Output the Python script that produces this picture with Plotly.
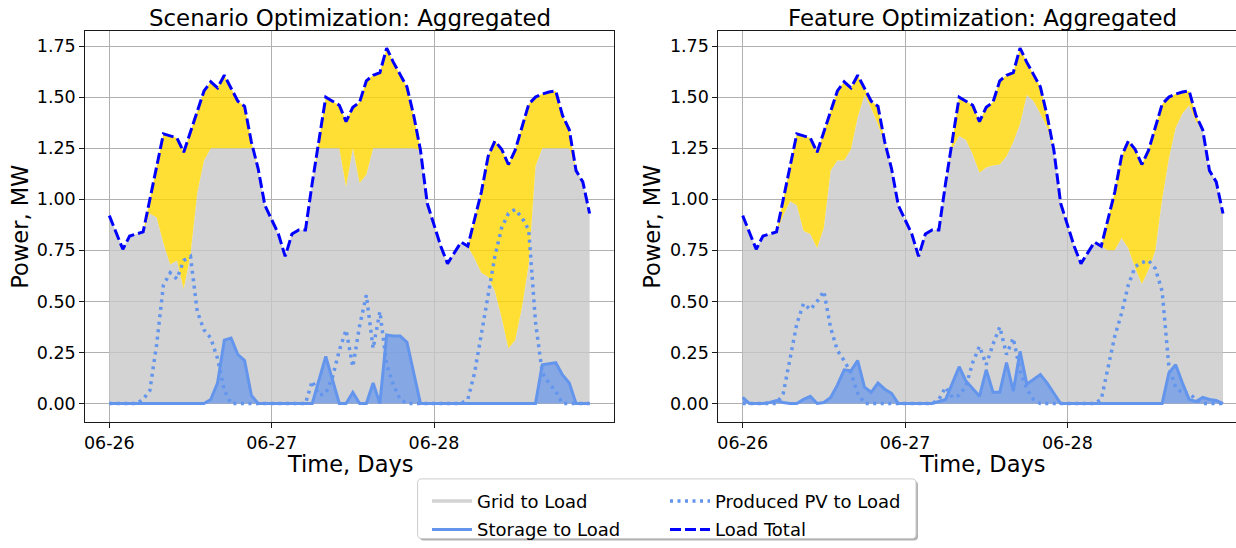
import pandas as pd
import plotly.graph_objects as go

W, H = 1236, 548
FONT = "DejaVu Sans"

start = pd.Timestamp("2023-06-26 00:00")
times = pd.date_range(start, periods=72, freq="h")
day_ticks = ["2023-06-26", "2023-06-27", "2023-06-28"]
day_labels = ["06-26", "06-27", "06-28"]

# ---- data (hourly, MW) ----
load_total = [0.92, 0.84, 0.755, 0.82, 0.83, 0.84, 1.00, 1.16, 1.32, 1.31, 1.30, 1.23,
              1.33, 1.43, 1.53, 1.575, 1.545, 1.607, 1.54, 1.48, 1.455, 1.28, 1.15, 0.97,
              0.90, 0.83, 0.72, 0.83, 0.85, 0.85, 1.08, 1.29, 1.50, 1.48, 1.46, 1.38,
              1.45, 1.475, 1.58, 1.607, 1.62, 1.74, 1.67, 1.61, 1.55, 1.41, 1.24, 0.98,
              0.87, 0.77, 0.685, 0.74, 0.79, 0.77, 0.90, 1.035, 1.21, 1.285, 1.245, 1.17,
              1.24, 1.355, 1.465, 1.50, 1.515, 1.525, 1.53, 1.41, 1.34, 1.14, 1.085, 0.93]

grid_scenario = [0.92, 0.84, 0.755, 0.82, 0.83, 0.84, 0.93, 0.91, 0.785, 0.68, 0.70, 0.56,
                 0.73, 1.03, 1.19, 1.25, 1.25, 1.25, 1.25, 1.25, 1.25, 1.25, 1.15, 0.97,
                 0.90, 0.83, 0.72, 0.83, 0.85, 0.85, 1.08, 1.25, 1.25, 1.25, 1.25, 1.06,
                 1.25, 1.08, 1.12, 1.25, 1.25, 1.25, 1.25, 1.25, 1.25, 1.25, 1.24, 0.98,
                 0.87, 0.77, 0.685, 0.74, 0.79, 0.77, 0.71, 0.64, 0.62, 0.55, 0.42, 0.27,
                 0.31, 0.47, 0.68, 1.16, 1.25, 1.25, 1.25, 1.25, 1.25, 1.14, 1.085, 0.93]

storage_scenario = [0, 0, 0, 0, 0, 0, 0, 0, 0, 0, 0, 0,
                    0, 0, 0, 0.02, 0.10, 0.31, 0.32, 0.24, 0.21, 0.04, 0, 0,
                    0, 0, 0, 0, 0, 0, 0, 0.115, 0.23, 0.115, 0, 0,
                    0.054, 0, 0, 0.10, 0, 0.335, 0.33, 0.33, 0.30, 0.15, 0, 0,
                    0, 0, 0, 0, 0, 0, 0, 0, 0, 0, 0, 0,
                    0, 0, 0, 0, 0.19, 0.195, 0.20, 0.14, 0.10, 0, 0, 0]

pv_scenario = [0, 0, 0, 0, 0, 0.02, 0.065, 0.29, 0.58, 0.64, 0.61, 0.70,
               0.72, 0.45, 0.36, 0.32, 0.22, 0.065, 0, 0, 0, 0, 0, 0,
               0, 0, 0, 0, 0, 0, 0.11, 0.04, 0.05, 0.13, 0.26, 0.36,
               0.18, 0.38, 0.53, 0.27, 0.45, 0.19, 0.09, 0.02, 0, 0, 0, 0,
               0, 0, 0, 0, 0, 0.02, 0.15, 0.34, 0.52, 0.72, 0.86, 0.93,
               0.95, 0.91, 0.85, 0.40, 0.15, 0.10, 0.06, 0, 0, 0, 0, 0]

grid_feature = [0.90, 0.84, 0.755, 0.82, 0.83, 0.84, 0.92, 0.99, 0.97, 0.845, 0.83, 0.76,
                0.86, 1.14, 1.19, 1.19, 1.245, 1.40, 1.51, 1.445, 1.365, 1.27, 1.15, 0.97,
                0.90, 0.83, 0.72, 0.83, 0.85, 0.85, 1.08, 1.25, 1.31, 1.29, 1.22, 1.13,
                1.155, 1.165, 1.17, 1.21, 1.28, 1.37, 1.51, 1.48, 1.42, 1.35, 1.24, 0.98,
                0.87, 0.77, 0.685, 0.74, 0.79, 0.77, 0.75, 0.75, 0.81, 0.76, 0.665, 0.585,
                0.655, 0.75, 1.00, 1.20, 1.35, 1.42, 1.46, 1.38, 1.34, 1.14, 1.085, 0.93]

storage_feature = [0.03, 0, 0, 0, 0.005, 0.015, 0.005, 0, 0, 0.02, 0.035, 0,
                   0.005, 0.03, 0.09, 0.165, 0.16, 0.21, 0.08, 0.055, 0.10, 0.07, 0.05, 0,
                   0, 0, 0, 0, 0, 0.01, 0.02, 0.10, 0.18, 0.11, 0.07, 0.035,
                   0.165, 0.055, 0.055, 0.20, 0.06, 0.255, 0.095, 0.12, 0.142, 0.10, 0.05, 0,
                   0, 0, 0, 0, 0, 0, 0, 0, 0, 0, 0, 0,
                   0, 0, 0, 0.15, 0.19, 0.10, 0.02, 0.01, 0.03, 0.02, 0.015, 0]

pv_feature = [0, 0, 0, 0, 0, 0, 0.05, 0.22, 0.39, 0.49, 0.46, 0.50,
              0.55, 0.37, 0.26, 0.21, 0.15, 0.05, 0, 0, 0, 0, 0, 0,
              0, 0, 0, 0, 0, 0.02, 0.08, 0.03, 0.04, 0.085, 0.20, 0.28,
              0.19, 0.29, 0.375, 0.24, 0.32, 0.16, 0.07, 0.02, 0, 0, 0, 0,
              0, 0, 0, 0, 0, 0.02, 0.17, 0.33, 0.44, 0.58, 0.67, 0.69,
              0.70, 0.66, 0.55, 0.18, 0.08, 0.05, 0.05, 0.02, 0, 0, 0, 0]

y_ticks = [0, 0.25, 0.5, 0.75, 1.0, 1.25, 1.5, 1.75]
titles = ["Scenario Optimization: Aggregated", "Feature Optimization: Aggregated"]

# ---- styles ----
GREY_FILL = "rgba(200,200,200,0.8)"
YELLOW_FILL = "rgba(255,215,0,0.8)"
BLUE = "#6495ED"
BLUE_FILL = "rgba(100,149,237,0.7)"
LOAD_BLUE = "#0000FF"
GRID_C = "#b0b0b0"


def px_x(p):
    """page pixel -> paper fraction"""
    return p / W


def px_y(p):
    return 1 - p / H


fig = go.Figure()


def add_panel(xa, ya, grid, storage, pv):
    common = dict(xaxis=xa, yaxis=ya, hoverinfo="skip", showlegend=False)
    fig.add_trace(go.Scatter(x=times, y=grid, mode="lines", line=dict(width=0, color=GREY_FILL),
                             fill="tozeroy", fillcolor=GREY_FILL, **common))
    fig.add_trace(go.Scatter(x=times, y=load_total, mode="lines", line=dict(width=0, color=YELLOW_FILL),
                             fill="tonexty", fillcolor=YELLOW_FILL, **common))
    fig.add_trace(go.Scatter(x=times, y=storage, mode="lines", line=dict(width=3, color=BLUE),
                             fill="tozeroy", fillcolor=BLUE_FILL, **common))
    fig.add_trace(go.Scatter(x=times, y=pv, mode="lines",
                             line=dict(width=3.5, color=BLUE, dash="3px,4.5px"), **common))
    fig.add_trace(go.Scatter(x=times, y=load_total, mode="lines",
                             line=dict(width=3, color=LOAD_BLUE, dash="11px,4px"), **common))


add_panel("x", "y", grid_scenario, storage_scenario, pv_scenario)
add_panel("x2", "y2", grid_feature, storage_feature, pv_feature)

# legend-only entries
leg_items = [
    ("Grid to Load", dict(color="#d3d3d3", width=3.5), "legend"),
    ("Storage to Load", dict(color=BLUE, width=3), "legend"),
    ("Produced PV to Load", dict(color=BLUE, width=3.5, dash="3px,4.5px"), "legend2"),
    ("Load Total", dict(color=LOAD_BLUE, width=3, dash="11px,4px"), "legend2"),
]
for i, (name, ln, lg) in enumerate(leg_items):
    fig.add_trace(go.Scatter(x=[None], y=[None], mode="lines", line=ln, name=name,
                             legend=lg, legendgroup=f"g{i}", xaxis="x", yaxis="y"))

h = pd.Timedelta(hours=1)
ydom = [px_y(428.5), px_y(31.7)]
axis_common = dict(showgrid=True, gridcolor=GRID_C, gridwidth=1, zeroline=False,
                   showline=True, linecolor="#1a1a1a", linewidth=1.1,
                   ticks="outside", ticklen=5, tickwidth=1, tickcolor="#1a1a1a",
                   tickfont=dict(family=FONT, size=17.5, color="black"))
xcommon = dict(type="date", tickvals=day_ticks, ticktext=day_labels, mirror=True, **axis_common)
ycommon = dict(range=[-0.0917, 1.8224], tickvals=y_ticks,
               ticktext=[f"{v:.2f}" for v in y_ticks], **axis_common)

legend_common = dict(xanchor="left", yanchor="top", bgcolor="rgba(0,0,0,0)", borderwidth=0,
                     tracegroupgap=2, itemwidth=40,
                     font=dict(family=FONT, size=18, color="black"))

fig.update_layout(
    width=W, height=H,
    margin=dict(l=0, r=0, t=0, b=0),
    paper_bgcolor="white", plot_bgcolor="white",
    font=dict(family=FONT, color="black"),
    xaxis=dict(domain=[px_x(85.3), px_x(613.6)], anchor="y",
               range=[start - 3.55 * h, start + 74.55 * h], **xcommon),
    yaxis=dict(domain=ydom, anchor="x", mirror=True, **ycommon),
    xaxis2=dict(domain=[px_x(718.4), 1.0], anchor="y2",
                range=[start - 3.59 * h, start + 72.92 * h], **xcommon),
    yaxis2=dict(domain=ydom, anchor="x2", mirror=False, **ycommon),
    legend=dict(x=px_x(427), y=px_y(490), **legend_common),
    legend2=dict(x=px_x(665), y=px_y(490), **legend_common),
)

ann = []
for cx, t in zip([349.5, 982.5], titles):
    ann.append(dict(text=t, x=px_x(cx), y=px_y(18), xref="paper", yref="paper",
                    xanchor="center", yanchor="middle", showarrow=False,
                    font=dict(family=FONT, size=22.9, color="black")))
for cx in [350, 982]:
    ann.append(dict(text="Time, Days", x=px_x(cx), y=px_y(471), xref="paper", yref="paper",
                    xanchor="center", yanchor="middle", showarrow=False,
                    font=dict(family=FONT, size=22.5, color="black")))
for cx in [20, 652]:
    ann.append(dict(text="Power, MW", x=px_x(cx), y=px_y(230), xref="paper", yref="paper",
                    xanchor="center", yanchor="middle", showarrow=False, textangle=-90,
                    font=dict(family=FONT, size=22.5, color="black")))
fig.update_layout(annotations=ann)


def rounded_rect(x0, y0, x1, y1, r):
    def P(x, y):
        return f"{px_x(x):.5f},{px_y(y):.5f}"
    return (f"M {P(x0 + r, y0)} L {P(x1 - r, y0)} Q {P(x1, y0)} {P(x1, y0 + r)} "
            f"L {P(x1, y1 - r)} Q {P(x1, y1)} {P(x1 - r, y1)} L {P(x0 + r, y1)} "
            f"Q {P(x0, y1)} {P(x0, y1 - r)} L {P(x0, y0 + r)} Q {P(x0, y0)} {P(x0 + r, y0)} Z")


fig.add_shape(type="path", path=rounded_rect(419.6, 488, 918, 548.5, 4), xref="paper", yref="paper",
              line=dict(width=0), fillcolor="rgba(0,0,0,0.3)", layer="below")
fig.add_shape(type="path", path=rounded_rect(417.6, 486, 916, 546.5, 4), xref="paper", yref="paper",
              line=dict(width=1, color="#cccccc"), fillcolor="white", layer="below")

# remove the browser's default 8px page margin so the figure fills the window exactly
fig.write_html("out.html",
               config={"displayModeBar": False},
               post_script="document.body.style.margin='0';document.body.style.overflow='hidden';")
